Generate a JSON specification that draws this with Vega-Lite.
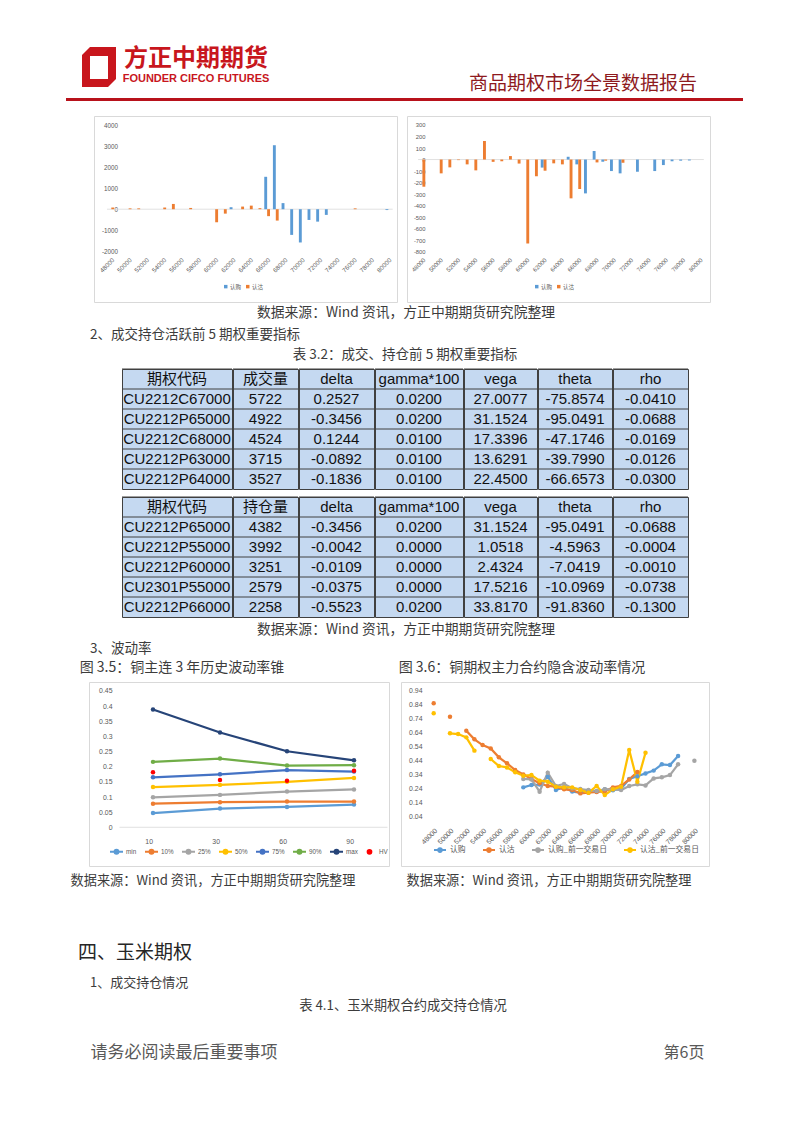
{
"$schema": "https://vega.github.io/schema/vega-lite/v6.json",
"padding": 0,
"background": "white",
"spacing": 0,
"config": {"view": {"stroke": null}, "font": "Noto Sans CJK SC"},
"resolve": {"scale": {"color": "independent", "x": "independent", "y": "independent"}, "legend": {"color": "independent"}, "axis": {"x": "independent", "y": "independent"}},
"datasets": {
 "b1": [
  {"k":"62000","s":"认购","v":95},{"k":"66000","s":"认购","v":1540},{"k":"67000","s":"认购","v":3040},{"k":"68000","s":"认购","v":290},
  {"k":"69000","s":"认购","v":-1220},{"k":"70000","s":"认购","v":-1580},{"k":"71000","s":"认购","v":-510},{"k":"72000","s":"认购","v":-590},
  {"k":"73000","s":"认购","v":-270},{"k":"80000","s":"认购","v":-40},
  {"k":"48000","s":"认沽","v":80},{"k":"50000","s":"认沽","v":40},{"k":"51000","s":"认沽","v":40},{"k":"54000","s":"认沽","v":80},
  {"k":"55000","s":"认沽","v":250},{"k":"57000","s":"认沽","v":60},{"k":"60000","s":"认沽","v":-620},{"k":"61000","s":"认沽","v":-210},
  {"k":"63000","s":"认沽","v":125},{"k":"64000","s":"认沽","v":170},{"k":"65000","s":"认沽","v":50},{"k":"66000","s":"认沽","v":-330},
  {"k":"67000","s":"认沽","v":-540},{"k":"76000","s":"认沽","v":40}
 ],
 "b2": [
  {"k":"62000","s":"认购","v":-70},{"k":"65000","s":"认购","v":24},{"k":"66000","s":"认购","v":-42},{"k":"67000","s":"认购","v":-294},
  {"k":"68000","s":"认购","v":74},{"k":"69000","s":"认购","v":-19},{"k":"70000","s":"认购","v":-100},{"k":"71000","s":"认购","v":-120},
  {"k":"73000","s":"认购","v":-106},{"k":"75000","s":"认购","v":-100},{"k":"76000","s":"认购","v":-48},{"k":"77000","s":"认购","v":-15},
  {"k":"78000","s":"认购","v":-10},{"k":"79000","s":"认购","v":-8},
  {"k":"48000","s":"认沽","v":-236},{"k":"50000","s":"认沽","v":-120},{"k":"51000","s":"认沽","v":-68},{"k":"52000","s":"认沽","v":-5},
  {"k":"53000","s":"认沽","v":-42},{"k":"54000","s":"认沽","v":-94},{"k":"55000","s":"认沽","v":161},{"k":"56000","s":"认沽","v":-20},
  {"k":"57000","s":"认沽","v":-15},{"k":"58000","s":"认沽","v":30},{"k":"59000","s":"认沽","v":-35},{"k":"60000","s":"认沽","v":-729},
  {"k":"61000","s":"认沽","v":-145},{"k":"62000","s":"认沽","v":-97},{"k":"63000","s":"认沽","v":-33},{"k":"64000","s":"认沽","v":-42},
  {"k":"65000","s":"认沽","v":-337},{"k":"66000","s":"认沽","v":-256},{"k":"68000","s":"认沽","v":-25},{"k":"69000","s":"认沽","v":-10},
  {"k":"71000","s":"认沽","v":-28}
 ],
 "t1": [
  {"code":"期权代码","n":"成交量","delta":"delta","gamma":"gamma*100","vega":"vega","theta":"theta","rho":"rho"},
  {"code":"CU2212C67000","n":"5722","delta":"0.2527","gamma":"0.0200","vega":"27.0077","theta":"-75.8574","rho":"-0.0410"},
  {"code":"CU2212P65000","n":"4922","delta":"-0.3456","gamma":"0.0200","vega":"31.1524","theta":"-95.0491","rho":"-0.0688"},
  {"code":"CU2212C68000","n":"4524","delta":"0.1244","gamma":"0.0100","vega":"17.3396","theta":"-47.1746","rho":"-0.0169"},
  {"code":"CU2212P63000","n":"3715","delta":"-0.0892","gamma":"0.0100","vega":"13.6291","theta":"-39.7990","rho":"-0.0126"},
  {"code":"CU2212P64000","n":"3527","delta":"-0.1836","gamma":"0.0100","vega":"22.4500","theta":"-66.6573","rho":"-0.0300"}
 ],
 "t2": [
  {"code":"期权代码","n":"持仓量","delta":"delta","gamma":"gamma*100","vega":"vega","theta":"theta","rho":"rho"},
  {"code":"CU2212P65000","n":"4382","delta":"-0.3456","gamma":"0.0200","vega":"31.1524","theta":"-95.0491","rho":"-0.0688"},
  {"code":"CU2212P55000","n":"3992","delta":"-0.0042","gamma":"0.0000","vega":"1.0518","theta":"-4.5963","rho":"-0.0004"},
  {"code":"CU2212P60000","n":"3251","delta":"-0.0109","gamma":"0.0000","vega":"2.4324","theta":"-7.0419","rho":"-0.0010"},
  {"code":"CU2301P55000","n":"2579","delta":"-0.0375","gamma":"0.0000","vega":"17.5216","theta":"-10.0969","rho":"-0.0738"},
  {"code":"CU2212P66000","n":"2258","delta":"-0.5523","gamma":"0.0200","vega":"33.8170","theta":"-91.8360","rho":"-0.1300"}
 ],
 "vc": [
  {"w":"10","s":"min","v":0.047},{"w":"30","s":"min","v":0.062},{"w":"60","s":"min","v":0.067},{"w":"90","s":"min","v":0.075},
  {"w":"10","s":"10%","v":0.078},{"w":"30","s":"10%","v":0.083},{"w":"60","s":"10%","v":0.085},{"w":"90","s":"10%","v":0.085},
  {"w":"10","s":"25%","v":0.099},{"w":"30","s":"25%","v":0.107},{"w":"60","s":"25%","v":0.118},{"w":"90","s":"25%","v":0.125},
  {"w":"10","s":"50%","v":0.133},{"w":"30","s":"50%","v":0.14},{"w":"60","s":"50%","v":0.15},{"w":"90","s":"50%","v":0.163},
  {"w":"10","s":"75%","v":0.165},{"w":"30","s":"75%","v":0.175},{"w":"60","s":"75%","v":0.189},{"w":"90","s":"75%","v":0.184},
  {"w":"10","s":"90%","v":0.216},{"w":"30","s":"90%","v":0.227},{"w":"60","s":"90%","v":0.204},{"w":"90","s":"90%","v":0.205},
  {"w":"10","s":"max","v":0.389},{"w":"30","s":"max","v":0.313},{"w":"60","s":"max","v":0.251},{"w":"90","s":"max","v":0.221},
  {"w":"10","s":"HV","v":0.182},{"w":"30","s":"HV","v":0.156},{"w":"60","s":"HV","v":0.154},{"w":"90","s":"HV","v":0.187}
 ],
 "iv": [
  {"s":"认购","k":59000,"v":0.25},{"s":"认购","k":60000,"v":0.267},{"s":"认购","k":61000,"v":0.27},{"s":"认购","k":62000,"v":0.326},
  {"s":"认购","k":63000,"v":0.231},{"s":"认购","k":64000,"v":0.25},{"s":"认购","k":65000,"v":0.22},{"s":"认购","k":66000,"v":0.212},
  {"s":"认购","k":67000,"v":0.224},{"s":"认购","k":68000,"v":0.219},{"s":"认购","k":69000,"v":0.236},{"s":"认购","k":70000,"v":0.23},
  {"s":"认购","k":71000,"v":0.24},{"s":"认购","k":72000,"v":0.31},{"s":"认购","k":73000,"v":0.33},{"s":"认购","k":74000,"v":0.35},
  {"s":"认购","k":75000,"v":0.37},{"s":"认购","k":76000,"v":0.415},{"s":"认购","k":77000,"v":0.41},{"s":"认购","k":78000,"v":0.475},
  {"s":"认沽","k":48000,"v":0.852},{"s":"认沽","k":49000,"v":null},{"s":"认沽","k":50000,"v":0.756},{"s":"认沽","k":51000,"v":null},
  {"s":"认沽","k":52000,"v":0.656},{"s":"认沽","k":53000,"v":0.594},{"s":"认沽","k":54000,"v":0.553},{"s":"认沽","k":55000,"v":0.529},
  {"s":"认沽","k":56000,"v":0.465},{"s":"认沽","k":57000,"v":0.422},{"s":"认沽","k":58000,"v":0.374},{"s":"认沽","k":59000,"v":0.343},
  {"s":"认沽","k":60000,"v":0.31},{"s":"认沽","k":61000,"v":0.279},{"s":"认沽","k":62000,"v":0.26},{"s":"认沽","k":63000,"v":0.255},
  {"s":"认沽","k":64000,"v":0.236},{"s":"认沽","k":65000,"v":0.231},{"s":"认沽","k":66000,"v":0.207},{"s":"认沽","k":67000,"v":0.212},
  {"s":"认沽","k":68000,"v":0.217},{"s":"认沽","k":69000,"v":0.221},{"s":"认沽","k":70000,"v":0.25},{"s":"认沽","k":71000,"v":0.26},
  {"s":"认沽","k":72000,"v":0.307},{"s":"认沽","k":73000,"v":0.36},
  {"s":"认购_前一交易日","k":59000,"v":0.31},{"s":"认购_前一交易日","k":60000,"v":0.307},{"s":"认购_前一交易日","k":61000,"v":0.219},
  {"s":"认购_前一交易日","k":62000,"v":0.355},{"s":"认购_前一交易日","k":63000,"v":0.26},{"s":"认购_前一交易日","k":64000,"v":0.274},
  {"s":"认购_前一交易日","k":65000,"v":0.243},{"s":"认购_前一交易日","k":66000,"v":0.238},{"s":"认购_前一交易日","k":67000,"v":0.231},
  {"s":"认购_前一交易日","k":68000,"v":0.224},{"s":"认购_前一交易日","k":69000,"v":0.236},{"s":"认购_前一交易日","k":70000,"v":0.236},
  {"s":"认购_前一交易日","k":71000,"v":0.231},{"s":"认购_前一交易日","k":72000,"v":0.26},{"s":"认购_前一交易日","k":73000,"v":0.272},
  {"s":"认购_前一交易日","k":74000,"v":0.264},{"s":"认购_前一交易日","k":75000,"v":0.314},{"s":"认购_前一交易日","k":76000,"v":0.322},
  {"s":"认购_前一交易日","k":77000,"v":0.338},{"s":"认购_前一交易日","k":78000,"v":0.415},{"s":"认购_前一交易日","k":79000,"v":null},
  {"s":"认购_前一交易日","k":80000,"v":0.44},
  {"s":"认沽_前一交易日","k":48000,"v":0.78},{"s":"认沽_前一交易日","k":49000,"v":null},{"s":"认沽_前一交易日","k":50000,"v":0.637},
  {"s":"认沽_前一交易日","k":51000,"v":0.632},{"s":"认沽_前一交易日","k":52000,"v":0.608},{"s":"认沽_前一交易日","k":53000,"v":0.513},
  {"s":"认沽_前一交易日","k":54000,"v":null},{"s":"认沽_前一交易日","k":55000,"v":0.453},{"s":"认沽_前一交易日","k":56000,"v":0.403},
  {"s":"认沽_前一交易日","k":57000,"v":0.393},{"s":"认沽_前一交易日","k":58000,"v":0.358},{"s":"认沽_前一交易日","k":59000,"v":0.334},
  {"s":"认沽_前一交易日","k":60000,"v":0.338},{"s":"认沽_前一交易日","k":61000,"v":0.298},{"s":"认沽_前一交易日","k":62000,"v":0.291},
  {"s":"认沽_前一交易日","k":63000,"v":0.255},{"s":"认沽_前一交易日","k":64000,"v":0.25},{"s":"认沽_前一交易日","k":65000,"v":0.25},
  {"s":"认沽_前一交易日","k":66000,"v":0.231},{"s":"认沽_前一交易日","k":67000,"v":0.212},{"s":"认沽_前一交易日","k":68000,"v":0.26},
  {"s":"认沽_前一交易日","k":69000,"v":0.195},{"s":"认沽_前一交易日","k":70000,"v":0.236},{"s":"认沽_前一交易日","k":71000,"v":0.255},
  {"s":"认沽_前一交易日","k":72000,"v":0.517},{"s":"认沽_前一交易日","k":73000,"v":0.29},{"s":"认沽_前一交易日","k":74000,"v":0.498}
 ]
},
"vconcat": [
 {"width": 10, "height": 46, "data": {"values": []}, "mark": "text"},
 {"spacing": 0, "hconcat": [
  {"width": 79, "height": 51, "data": {"values": []}, "mark": "text"},
  {"width": 40, "height": 51, "data": {"values": [{}]},
   "mark": {"type": "point", "shape": "M-0.85,-0.6L-0.45,-1L0.85,-1L0.85,0.6L0.45,1L-0.85,1ZM-0.45,-0.55L-0.45,0.6L0.45,0.6L0.45,-0.55Z", "filled": true, "color": "#c8161d", "size": 1600, "opacity": 1, "strokeWidth": 0},
   "encoding": {"y": {"datum": "e", "type": "nominal", "scale": {"type": "band", "domain": ["e"], "paddingInner": 0, "paddingOuter": 0.1375, "align": 0}, "axis": null}}},
  {"width": 2, "height": 51, "data": {"values": []}, "mark": "text"},
  {"width": 150, "height": 51,
   "data": {"values": [{"t": "方正中期期货", "r": "a"}, {"t": "FOUNDER CIFCO FUTURES", "r": "b"}]},
   "encoding": {"y": {"field": "r", "type": "nominal", "scale": {"type": "band", "domain": ["a", "b"], "paddingInner": 0, "paddingOuter": 0.275, "align": 0.1818}, "axis": null}, "text": {"field": "t"}},
   "layer": [
    {"transform": [{"filter": "datum.r === 'a'"}], "mark": {"type": "text", "fontSize": 24, "fontWeight": "bold", "color": "#c8161d", "font": "Noto Sans CJK SC"}},
    {"transform": [{"filter": "datum.r === 'b'"}], "mark": {"type": "text", "fontSize": 11, "fontWeight": "bold", "color": "#c8161d", "font": "Liberation Sans"}}
   ]},
  {"width": 187, "height": 51, "data": {"values": []}, "mark": "text"},
  {"width": 250, "height": 51, "data": {"values": [{"t": "商品期权市场全景数据报告"}]},
   "mark": {"type": "text", "fontSize": 19, "color": "#8e1a1e", "font": "Noto Sans CJK SC"},
   "encoding": {"y": {"datum": "l", "type": "nominal", "scale": {"type": "band", "domain": ["u", "l"], "paddingInner": 0, "paddingOuter": 0.275, "align": 0.636}, "axis": null}, "text": {"field": "t"}}}
 ]},
 {"spacing": 0, "hconcat": [
  {"width": 66, "height": 3, "data": {"values": []}, "mark": "text"},
  {"width": 677, "height": 3, "data": {"values": []}, "mark": "text", "view": {"fill": "#b8121b", "stroke": null}}
 ]},
 {"width": 10, "height": 14, "data": {"values": []}, "mark": "text"},
 {"spacing": 0,
  "resolve": {"scale": {"color": "independent", "x": "independent", "y": "independent", "xOffset": "independent"}, "legend": {"color": "independent"}, "axis": {"x": "independent", "y": "independent"}},
  "hconcat": [
  {"width": 92.5, "height": 186, "data": {"values": []}, "mark": "text"},
  {"width": 303, "height": 186, "view": {"stroke": "#d9d9d9", "fill": "white"},
   "layer": [
    {"data": {"values": [{}]}, "mark": {"type": "rule", "color": "#d9d9d9", "strokeWidth": 0.8},
     "encoding": {
      "y": {"datum": 0, "type": "quantitative", "scale": {"domain": [-4408, 4428], "nice": false, "zero": false},
       "axis": {"values": [-2000, -1000, 0, 1000, 2000, 3000, 4000], "labelExpr": "'' + datum.value", "labelOverlap": false, "domain": false, "ticks": false, "grid": false, "title": null, "offset": -23.5, "labelPadding": 0, "labelFontSize": 6.3, "labelColor": "#595959", "labelFont": "Liberation Sans"}},
      "x": {"datum": "48000", "type": "nominal", "bandPosition": 0,
       "axis": {"values": ["48000","50000","52000","54000","56000","58000","60000","62000","64000","66000","68000","70000","72000","74000","76000","78000","80000"], "labelAngle": -45, "domain": false, "ticks": false, "grid": false, "title": null, "offset": -47.5, "labelPadding": 2, "labelFontSize": 6.3, "labelColor": "#595959", "labelFont": "Liberation Sans", "labelOverlap": false}},
      "x2": {"datum": "80000", "bandPosition": 1}}},
    {"data": {"name": "b1"}, "mark": {"type": "bar"},
     "encoding": {
      "x": {"field": "k", "type": "nominal", "scale": {"domain": ["48000","49000","50000","51000","52000","53000","54000","55000","56000","57000","58000","59000","60000","61000","62000","63000","64000","65000","66000","67000","68000","69000","70000","71000","72000","73000","74000","75000","76000","77000","78000","79000","80000"], "paddingInner": 0, "paddingOuter": 2.4375, "align": 0.75},
       "axis": {"values": ["48000","50000","52000","54000","56000","58000","60000","62000","64000","66000","68000","70000","72000","74000","76000","78000","80000"], "labelAngle": -45, "domain": false, "ticks": false, "grid": false, "title": null, "offset": -47.5, "labelPadding": 2, "labelFontSize": 6.3, "labelColor": "#595959", "labelFont": "Liberation Sans", "labelOverlap": false}},
      "xOffset": {"field": "s", "type": "nominal", "scale": {"domain": ["认购", "认沽"], "paddingOuter": 0.5, "paddingInner": 0}},
      "y": {"field": "v", "type": "quantitative", "scale": {"domain": [-4408, 4428], "nice": false, "zero": false},
       "axis": {"values": [-2000, -1000, 0, 1000, 2000, 3000, 4000], "labelExpr": "'' + datum.value", "labelOverlap": false, "domain": false, "ticks": false, "grid": false, "title": null, "offset": -23.5, "labelPadding": 0, "labelFontSize": 6.3, "labelColor": "#595959", "labelFont": "Liberation Sans"}},
      "y2": {"datum": 0},
      "color": {"field": "s", "type": "nominal", "scale": {"domain": ["认购", "认沽"], "range": ["#5B9BD5", "#ED7D31"]},
       "legend": {"orient": "none", "legendX": 129, "legendY": 167.5, "direction": "horizontal", "columns": 2, "title": null, "symbolType": "square", "symbolSize": 12, "labelFontSize": 5.5, "labelOffset": 1.5, "columnPadding": 3, "labelColor": "#595959", "labelFont": "Noto Sans CJK SC"}}
     }}
   ]},
  {"width": 8, "height": 186, "data": {"values": []}, "mark": "text"},
  {"width": 303, "height": 186, "view": {"stroke": "#d9d9d9", "fill": "white"},
   "layer": [
    {"data": {"values": [{}]}, "mark": {"type": "rule", "color": "#d9d9d9", "strokeWidth": 0.8},
     "encoding": {
      "y": {"datum": 0, "type": "quantitative", "scale": {"domain": [-1237, 378], "nice": false, "zero": false},
       "axis": {"values": [-800, -700, -600, -500, -400, -300, -200, -100, 0, 100, 200, 300], "labelExpr": "'' + datum.value", "labelOverlap": false, "domain": false, "ticks": false, "grid": false, "title": null, "offset": -18, "labelPadding": 0, "labelFontSize": 5.8, "labelColor": "#595959", "labelFont": "Liberation Sans"}},
      "x": {"datum": "48000", "type": "nominal", "bandPosition": 0,
       "axis": {"values": ["48000","50000","52000","54000","56000","58000","60000","62000","64000","66000","68000","70000","72000","74000","76000","78000","80000"], "labelAngle": -45, "domain": false, "ticks": false, "grid": false, "title": null, "offset": -47.5, "labelPadding": 2, "labelFontSize": 6, "labelColor": "#595959", "labelFont": "Liberation Sans", "labelOverlap": false}},
      "x2": {"datum": "80000", "bandPosition": 1}}},
    {"data": {"name": "b2"}, "mark": {"type": "bar"},
     "encoding": {
      "x": {"field": "k", "type": "nominal", "scale": {"domain": ["48000","49000","50000","51000","52000","53000","54000","55000","56000","57000","58000","59000","60000","61000","62000","63000","64000","65000","66000","67000","68000","69000","70000","71000","72000","73000","74000","75000","76000","77000","78000","79000","80000"], "paddingInner": 0, "paddingOuter": 2.4375, "align": 0.641},
       "axis": {"values": ["48000","50000","52000","54000","56000","58000","60000","62000","64000","66000","68000","70000","72000","74000","76000","78000","80000"], "labelAngle": -45, "domain": false, "ticks": false, "grid": false, "title": null, "offset": -47.5, "labelPadding": 2, "labelFontSize": 6, "labelColor": "#595959", "labelFont": "Liberation Sans", "labelOverlap": false}},
      "xOffset": {"field": "s", "type": "nominal", "scale": {"domain": ["认购", "认沽"], "paddingOuter": 0.5, "paddingInner": 0}},
      "y": {"field": "v", "type": "quantitative", "scale": {"domain": [-1237, 378], "nice": false, "zero": false},
       "axis": {"values": [-800, -700, -600, -500, -400, -300, -200, -100, 0, 100, 200, 300], "labelExpr": "'' + datum.value", "labelOverlap": false, "domain": false, "ticks": false, "grid": false, "title": null, "offset": -18, "labelPadding": 0, "labelFontSize": 5.8, "labelColor": "#595959", "labelFont": "Liberation Sans"}},
      "y2": {"datum": 0},
      "color": {"field": "s", "type": "nominal", "scale": {"domain": ["认购", "认沽"], "range": ["#5B9BD5", "#ED7D31"]},
       "legend": {"orient": "none", "legendX": 127, "legendY": 167.5, "direction": "horizontal", "columns": 2, "title": null, "symbolType": "square", "symbolSize": 12, "labelFontSize": 5.5, "labelOffset": 1.5, "columnPadding": 3, "labelColor": "#595959", "labelFont": "Noto Sans CJK SC"}}
     }}
   ]}
 ]},
 {"spacing": 0, "hconcat": [
  {"width": 256, "height": 19.5, "data": {"values": []}, "mark": "text"},
  {"width": 300, "height": 19.5, "data": {"values": [{"t": "数据来源：Wind 资讯，方正中期期货研究院整理"}]}, "mark": {"type": "text", "fontSize": 13.8, "color": "#3c3c3c", "font": "Noto Sans CJK SC"}, "encoding": {"text": {"field": "t"}}}
 ]},
 {"spacing": 0, "hconcat": [
  {"width": 80, "height": 24, "data": {"values": []}, "mark": "text"},
  {"width": 20, "height": 24, "data": {"values": [{"t": "2、成交持仓活跃前 5 期权重要指标"}]}, "mark": {"type": "text", "align": "left", "fontSize": 13.5, "color": "#3c3c3c", "font": "Noto Sans CJK SC"}, "encoding": {"text": {"field": "t"}}}
 ]},
 {"spacing": 0, "hconcat": [
  {"width": 285, "height": 16, "data": {"values": []}, "mark": "text"},
  {"width": 240, "height": 16, "data": {"values": [{"t": "表 3.2：成交、持仓前 5 期权重要指标"}]}, "mark": {"type": "text", "fontSize": 13.5, "color": "#3c3c3c", "font": "Noto Sans CJK SC"}, "encoding": {"text": {"field": "t"}}}
 ]},
 {"width": 10, "height": 4.5, "data": {"values": []}, "mark": "text"},
 {"spacing": -2, "hconcat": [
  {"width": 121.5, "height": 120, "data": {"values": []}, "mark": "text"},
  {"width": 110, "height": 120, "data": {"name": "t1"}, "view": {"fill": "#c5d9f1", "stroke": "#404040"},
   "encoding": {"y": {"field": "code", "type": "nominal", "sort": null, "scale": {"type": "band", "paddingInner": 0, "paddingOuter": 0}, "axis": null}},
   "layer": [{"mark": {"type": "rule", "color": "#404040"}, "encoding": {"y": {"field": "code", "type": "nominal", "sort": null, "bandPosition": 0, "scale": {"type": "band", "paddingInner": 0, "paddingOuter": 0}, "axis": null}}},
    {"mark": {"type": "text", "fontSize": 15, "color": "#111111", "font": "Liberation Sans, Noto Sans CJK SC"}, "encoding": {"text": {"field": "code"}}}]},
  {"width": 65, "height": 120, "data": {"name": "t1"}, "view": {"fill": "#c5d9f1", "stroke": "#404040"},
   "encoding": {"y": {"field": "code", "type": "nominal", "sort": null, "scale": {"type": "band", "paddingInner": 0, "paddingOuter": 0}, "axis": null}},
   "layer": [{"mark": {"type": "rule", "color": "#404040"}, "encoding": {"y": {"field": "code", "type": "nominal", "sort": null, "bandPosition": 0, "scale": {"type": "band", "paddingInner": 0, "paddingOuter": 0}, "axis": null}}},
    {"mark": {"type": "text", "fontSize": 15, "color": "#111111", "font": "Liberation Sans, Noto Sans CJK SC"}, "encoding": {"text": {"field": "n"}}}]},
  {"width": 75, "height": 120, "data": {"name": "t1"}, "view": {"fill": "#c5d9f1", "stroke": "#404040"},
   "encoding": {"y": {"field": "code", "type": "nominal", "sort": null, "scale": {"type": "band", "paddingInner": 0, "paddingOuter": 0}, "axis": null}},
   "layer": [{"mark": {"type": "rule", "color": "#404040"}, "encoding": {"y": {"field": "code", "type": "nominal", "sort": null, "bandPosition": 0, "scale": {"type": "band", "paddingInner": 0, "paddingOuter": 0}, "axis": null}}},
    {"mark": {"type": "text", "fontSize": 15, "color": "#111111", "font": "Liberation Sans, Noto Sans CJK SC"}, "encoding": {"text": {"field": "delta"}}}]},
  {"width": 88, "height": 120, "data": {"name": "t1"}, "view": {"fill": "#c5d9f1", "stroke": "#404040"},
   "encoding": {"y": {"field": "code", "type": "nominal", "sort": null, "scale": {"type": "band", "paddingInner": 0, "paddingOuter": 0}, "axis": null}},
   "layer": [{"mark": {"type": "rule", "color": "#404040"}, "encoding": {"y": {"field": "code", "type": "nominal", "sort": null, "bandPosition": 0, "scale": {"type": "band", "paddingInner": 0, "paddingOuter": 0}, "axis": null}}},
    {"mark": {"type": "text", "fontSize": 15, "color": "#111111", "font": "Liberation Sans, Noto Sans CJK SC"}, "encoding": {"text": {"field": "gamma"}}}]},
  {"width": 73, "height": 120, "data": {"name": "t1"}, "view": {"fill": "#c5d9f1", "stroke": "#404040"},
   "encoding": {"y": {"field": "code", "type": "nominal", "sort": null, "scale": {"type": "band", "paddingInner": 0, "paddingOuter": 0}, "axis": null}},
   "layer": [{"mark": {"type": "rule", "color": "#404040"}, "encoding": {"y": {"field": "code", "type": "nominal", "sort": null, "bandPosition": 0, "scale": {"type": "band", "paddingInner": 0, "paddingOuter": 0}, "axis": null}}},
    {"mark": {"type": "text", "fontSize": 15, "color": "#111111", "font": "Liberation Sans, Noto Sans CJK SC"}, "encoding": {"text": {"field": "vega"}}}]},
  {"width": 74, "height": 120, "data": {"name": "t1"}, "view": {"fill": "#c5d9f1", "stroke": "#404040"},
   "encoding": {"y": {"field": "code", "type": "nominal", "sort": null, "scale": {"type": "band", "paddingInner": 0, "paddingOuter": 0}, "axis": null}},
   "layer": [{"mark": {"type": "rule", "color": "#404040"}, "encoding": {"y": {"field": "code", "type": "nominal", "sort": null, "bandPosition": 0, "scale": {"type": "band", "paddingInner": 0, "paddingOuter": 0}, "axis": null}}},
    {"mark": {"type": "text", "fontSize": 15, "color": "#111111", "font": "Liberation Sans, Noto Sans CJK SC"}, "encoding": {"text": {"field": "theta"}}}]},
  {"width": 75, "height": 120, "data": {"name": "t1"}, "view": {"fill": "#c5d9f1", "stroke": "#404040"},
   "encoding": {"y": {"field": "code", "type": "nominal", "sort": null, "scale": {"type": "band", "paddingInner": 0, "paddingOuter": 0}, "axis": null}},
   "layer": [{"mark": {"type": "rule", "color": "#404040"}, "encoding": {"y": {"field": "code", "type": "nominal", "sort": null, "bandPosition": 0, "scale": {"type": "band", "paddingInner": 0, "paddingOuter": 0}, "axis": null}}},
    {"mark": {"type": "text", "fontSize": 15, "color": "#111111", "font": "Liberation Sans, Noto Sans CJK SC"}, "encoding": {"text": {"field": "rho"}}}]}
 ]},
 {"width": 10, "height": 6, "data": {"values": []}, "mark": "text"},
 {"spacing": -2, "hconcat": [
  {"width": 121.5, "height": 120, "data": {"values": []}, "mark": "text"},
  {"width": 110, "height": 120, "data": {"name": "t2"}, "view": {"fill": "#c5d9f1", "stroke": "#404040"},
   "encoding": {"y": {"field": "code", "type": "nominal", "sort": null, "scale": {"type": "band", "paddingInner": 0, "paddingOuter": 0}, "axis": null}},
   "layer": [{"mark": {"type": "rule", "color": "#404040"}, "encoding": {"y": {"field": "code", "type": "nominal", "sort": null, "bandPosition": 0, "scale": {"type": "band", "paddingInner": 0, "paddingOuter": 0}, "axis": null}}},
    {"mark": {"type": "text", "fontSize": 15, "color": "#111111", "font": "Liberation Sans, Noto Sans CJK SC"}, "encoding": {"text": {"field": "code"}}}]},
  {"width": 65, "height": 120, "data": {"name": "t2"}, "view": {"fill": "#c5d9f1", "stroke": "#404040"},
   "encoding": {"y": {"field": "code", "type": "nominal", "sort": null, "scale": {"type": "band", "paddingInner": 0, "paddingOuter": 0}, "axis": null}},
   "layer": [{"mark": {"type": "rule", "color": "#404040"}, "encoding": {"y": {"field": "code", "type": "nominal", "sort": null, "bandPosition": 0, "scale": {"type": "band", "paddingInner": 0, "paddingOuter": 0}, "axis": null}}},
    {"mark": {"type": "text", "fontSize": 15, "color": "#111111", "font": "Liberation Sans, Noto Sans CJK SC"}, "encoding": {"text": {"field": "n"}}}]},
  {"width": 75, "height": 120, "data": {"name": "t2"}, "view": {"fill": "#c5d9f1", "stroke": "#404040"},
   "encoding": {"y": {"field": "code", "type": "nominal", "sort": null, "scale": {"type": "band", "paddingInner": 0, "paddingOuter": 0}, "axis": null}},
   "layer": [{"mark": {"type": "rule", "color": "#404040"}, "encoding": {"y": {"field": "code", "type": "nominal", "sort": null, "bandPosition": 0, "scale": {"type": "band", "paddingInner": 0, "paddingOuter": 0}, "axis": null}}},
    {"mark": {"type": "text", "fontSize": 15, "color": "#111111", "font": "Liberation Sans, Noto Sans CJK SC"}, "encoding": {"text": {"field": "delta"}}}]},
  {"width": 88, "height": 120, "data": {"name": "t2"}, "view": {"fill": "#c5d9f1", "stroke": "#404040"},
   "encoding": {"y": {"field": "code", "type": "nominal", "sort": null, "scale": {"type": "band", "paddingInner": 0, "paddingOuter": 0}, "axis": null}},
   "layer": [{"mark": {"type": "rule", "color": "#404040"}, "encoding": {"y": {"field": "code", "type": "nominal", "sort": null, "bandPosition": 0, "scale": {"type": "band", "paddingInner": 0, "paddingOuter": 0}, "axis": null}}},
    {"mark": {"type": "text", "fontSize": 15, "color": "#111111", "font": "Liberation Sans, Noto Sans CJK SC"}, "encoding": {"text": {"field": "gamma"}}}]},
  {"width": 73, "height": 120, "data": {"name": "t2"}, "view": {"fill": "#c5d9f1", "stroke": "#404040"},
   "encoding": {"y": {"field": "code", "type": "nominal", "sort": null, "scale": {"type": "band", "paddingInner": 0, "paddingOuter": 0}, "axis": null}},
   "layer": [{"mark": {"type": "rule", "color": "#404040"}, "encoding": {"y": {"field": "code", "type": "nominal", "sort": null, "bandPosition": 0, "scale": {"type": "band", "paddingInner": 0, "paddingOuter": 0}, "axis": null}}},
    {"mark": {"type": "text", "fontSize": 15, "color": "#111111", "font": "Liberation Sans, Noto Sans CJK SC"}, "encoding": {"text": {"field": "vega"}}}]},
  {"width": 74, "height": 120, "data": {"name": "t2"}, "view": {"fill": "#c5d9f1", "stroke": "#404040"},
   "encoding": {"y": {"field": "code", "type": "nominal", "sort": null, "scale": {"type": "band", "paddingInner": 0, "paddingOuter": 0}, "axis": null}},
   "layer": [{"mark": {"type": "rule", "color": "#404040"}, "encoding": {"y": {"field": "code", "type": "nominal", "sort": null, "bandPosition": 0, "scale": {"type": "band", "paddingInner": 0, "paddingOuter": 0}, "axis": null}}},
    {"mark": {"type": "text", "fontSize": 15, "color": "#111111", "font": "Liberation Sans, Noto Sans CJK SC"}, "encoding": {"text": {"field": "theta"}}}]},
  {"width": 75, "height": 120, "data": {"name": "t2"}, "view": {"fill": "#c5d9f1", "stroke": "#404040"},
   "encoding": {"y": {"field": "code", "type": "nominal", "sort": null, "scale": {"type": "band", "paddingInner": 0, "paddingOuter": 0}, "axis": null}},
   "layer": [{"mark": {"type": "rule", "color": "#404040"}, "encoding": {"y": {"field": "code", "type": "nominal", "sort": null, "bandPosition": 0, "scale": {"type": "band", "paddingInner": 0, "paddingOuter": 0}, "axis": null}}},
    {"mark": {"type": "text", "fontSize": 15, "color": "#111111", "font": "Liberation Sans, Noto Sans CJK SC"}, "encoding": {"text": {"field": "rho"}}}]}
 ]},
 {"spacing": 0, "hconcat": [
  {"width": 256, "height": 23.5, "data": {"values": []}, "mark": "text"},
  {"width": 300, "height": 23.5, "data": {"values": [{"t": "数据来源：Wind 资讯，方正中期期货研究院整理"}]}, "mark": {"type": "text", "fontSize": 13.8, "color": "#3c3c3c", "font": "Noto Sans CJK SC"}, "encoding": {"text": {"field": "t"}}}
 ]},
 {"spacing": 0, "hconcat": [
  {"width": 80, "height": 14, "data": {"values": []}, "mark": "text"},
  {"width": 20, "height": 14, "data": {"values": [{"t": "3、波动率"}]}, "mark": {"type": "text", "align": "left", "fontSize": 13.5, "color": "#3c3c3c", "font": "Noto Sans CJK SC"}, "encoding": {"text": {"field": "t"}}}
 ]},
 {"spacing": 0, "hconcat": [
  {"width": 72, "height": 24.5, "data": {"values": []}, "mark": "text"},
  {"width": 220, "height": 24.5, "data": {"values": [{"t": "图 3.5：铜主连 3 年历史波动率锥"}]}, "mark": {"type": "text", "fontSize": 14, "color": "#3c3c3c", "font": "Noto Sans CJK SC"}, "encoding": {"text": {"field": "t"}}},
  {"width": 100, "height": 24.5, "data": {"values": []}, "mark": "text"},
  {"width": 260, "height": 24.5, "data": {"values": [{"t": "图 3.6：铜期权主力合约隐含波动率情况"}]}, "mark": {"type": "text", "fontSize": 14, "color": "#3c3c3c", "font": "Noto Sans CJK SC"}, "encoding": {"text": {"field": "t"}}}
 ]},
 {"spacing": 0,
  "resolve": {"scale": {"color": "independent", "x": "independent", "y": "independent"}, "legend": {"color": "independent"}, "axis": {"x": "independent", "y": "independent"}},
  "hconcat": [
  {"width": 87.5, "height": 184, "data": {"values": []}, "mark": "text"},
  {"width": 300, "height": 184, "view": {"stroke": "#d9d9d9", "fill": "white"}, "data": {"name": "vc"},
   "layer": [
    {"data": {"values": [{}]}, "mark": {"type": "rule", "color": "#d9d9d9", "strokeWidth": 0.8},
     "encoding": {
      "y": {"datum": 0, "type": "quantitative", "scale": {"domain": [-0.1278, 0.4797], "nice": false, "zero": false},
       "axis": {"values": [0, 0.05, 0.1, 0.15, 0.2, 0.25, 0.3, 0.35, 0.4, 0.45], "labelExpr": "'' + datum.value", "labelOverlap": false, "domain": false, "ticks": false, "grid": false, "title": null, "offset": -23, "labelPadding": 0, "labelFontSize": 6.9, "labelColor": "#595959", "labelFont": "Liberation Sans"}},
      "x": {"datum": "10", "type": "nominal", "bandPosition": 0},
      "x2": {"datum": "90", "bandPosition": 1}}},
    {"mark": {"type": "line", "strokeWidth": 2.25, "point": {"filled": true, "size": 20}},
     "encoding": {
      "x": {"field": "w", "type": "nominal", "scale": {"type": "band", "domain": ["10", "30", "60", "90"], "paddingInner": 0, "paddingOuter": 0.2388, "align": 0.953},
       "axis": {"domain": false, "ticks": false, "grid": false, "title": null, "labelAngle": 0, "offset": -38.7, "labelPadding": 13.7, "labelFontSize": 6.9, "labelColor": "#595959", "labelFont": "Liberation Sans"}},
      "y": {"field": "v", "type": "quantitative", "scale": {"domain": [-0.1278, 0.4797], "nice": false, "zero": false},
       "axis": {"values": [0, 0.05, 0.1, 0.15, 0.2, 0.25, 0.3, 0.35, 0.4, 0.45], "labelExpr": "'' + datum.value", "labelOverlap": false, "domain": false, "ticks": false, "grid": false, "title": null, "offset": -23, "labelPadding": 0, "labelFontSize": 6.9, "labelColor": "#595959", "labelFont": "Liberation Sans"}},
      "strokeOpacity": {"condition": {"test": "datum.s === 'HV'", "value": 0}, "value": 1},
      "color": {"field": "s", "type": "nominal", "scale": {"domain": ["min", "10%", "25%", "50%", "75%", "90%", "max", "HV"], "range": ["#5B9BD5", "#ED7D31", "#A5A5A5", "#FFC000", "#4472C4", "#70AD47", "#264478", "#FF0000"]},
       "legend": {"orient": "none", "legendX": 20, "legendY": 162, "direction": "horizontal", "columns": 8, "title": null, "symbolType": "M-1,0L1,0M-0.3,0A0.3,0.3,0,1,0,0.3,0A0.3,0.3,0,1,0,-0.3,0", "symbolSize": 169, "symbolStrokeWidth": 2, "labelFontSize": 6.3, "labelOffset": 2, "columnPadding": 4, "labelColor": "#595959", "labelFont": "Liberation Sans",
        "encode": {"symbols": {"update": {
          "shape": {"signal": "datum.value === 'HV' ? 'circle' : 'M-1,0L1,0M-0.3,0A0.3,0.3,0,1,0,0.3,0A0.3,0.3,0,1,0,-0.3,0'"},
          "size": {"signal": "datum.value === 'HV' ? 14 : 169"},
          "fill": {"scale": "color", "field": "value"},
          "stroke": {"scale": "color", "field": "value"},
          "strokeOpacity": {"value": 1}}}}}}
     }}
   ]},
  {"width": 10, "height": 184, "data": {"values": []}, "mark": "text"},
  {"width": 308, "height": 184, "view": {"stroke": "#d9d9d9", "fill": "white"}, "data": {"name": "iv"},
   "mark": {"type": "line", "strokeWidth": 2.25, "invalid": "break-paths-filter-domains", "point": {"filled": true, "size": 20}},
   "encoding": {
    "x": {"field": "k", "type": "quantitative", "scale": {"domain": [43986, 81792], "nice": false, "zero": false},
     "axis": {"values": [48000, 50000, 52000, 54000, 56000, 58000, 60000, 62000, 64000, 66000, 68000, 70000, 72000, 74000, 76000, 78000, 80000], "format": "d", "labelAngle": -45, "labelFlush": false, "labelOverlap": false, "domain": false, "ticks": false, "grid": false, "title": null, "offset": -40.8, "labelPadding": 2, "labelFontSize": 6.9, "labelColor": "#595959", "labelFont": "Liberation Sans"}},
    "y": {"field": "v", "type": "quantitative", "scale": {"domain": [-0.3129, 1.0044], "nice": false, "zero": false},
     "axis": {"values": [0.04, 0.14, 0.24, 0.34, 0.44, 0.54, 0.64, 0.74, 0.84, 0.94], "labelExpr": "'' + datum.value", "labelOverlap": false, "domain": false, "ticks": false, "grid": false, "title": null, "offset": -21, "labelPadding": 0, "labelFontSize": 6.9, "labelColor": "#595959", "labelFont": "Liberation Sans"}},
    "color": {"field": "s", "type": "nominal", "scale": {"domain": ["认购", "认沽", "认购_前一交易日", "认沽_前一交易日"], "range": ["#5B9BD5", "#ED7D31", "#A5A5A5", "#FFC000"]},
     "legend": {"orient": "none", "legendX": 32, "legendY": 161, "direction": "horizontal", "columns": 4, "title": null, "symbolType": "M-1,0L1,0M-0.3,0A0.3,0.3,0,1,0,0.3,0A0.3,0.3,0,1,0,-0.3,0", "symbolSize": 144, "symbolStrokeWidth": 2, "labelFontSize": 7.8, "labelOffset": 3, "columnPadding": 13, "labelColor": "#595959", "labelFont": "Noto Sans CJK SC",
      "encode": {"symbols": {"update": {"fill": {"scale": "color", "field": "value"}, "stroke": {"scale": "color", "field": "value"}}}}}}
   }}
 ]},
 {"spacing": 0, "hconcat": [
  {"width": 70, "height": 27.5, "data": {"values": []}, "mark": "text"},
  {"width": 276, "height": 27.5, "data": {"values": [{"t": "数据来源：Wind 资讯，方正中期期货研究院整理"}]}, "mark": {"type": "text", "fontSize": 13.2, "color": "#3c3c3c", "font": "Noto Sans CJK SC"}, "encoding": {"text": {"field": "t"}}},
  {"width": 50, "height": 27.5, "data": {"values": []}, "mark": "text"},
  {"width": 276, "height": 27.5, "data": {"values": [{"t": "数据来源：Wind 资讯，方正中期期货研究院整理"}]}, "mark": {"type": "text", "fontSize": 13.2, "color": "#3c3c3c", "font": "Noto Sans CJK SC"}, "encoding": {"text": {"field": "t"}}}
 ]},
 {"width": 10, "height": 44, "data": {"values": []}, "mark": "text"},
 {"spacing": 0, "hconcat": [
  {"width": 68, "height": 28, "data": {"values": []}, "mark": "text"},
  {"width": 20, "height": 28, "data": {"values": [{"t": "四、玉米期权"}]}, "mark": {"type": "text", "align": "left", "fontSize": 19, "color": "#262626", "font": "Noto Sans CJK SC"}, "encoding": {"text": {"field": "t"}}}
 ]},
 {"spacing": 0, "hconcat": [
  {"width": 80, "height": 32, "data": {"values": []}, "mark": "text"},
  {"width": 20, "height": 32, "data": {"values": [{"t": "1、成交持仓情况"}]}, "mark": {"type": "text", "align": "left", "fontSize": 13, "color": "#3c3c3c", "font": "Noto Sans CJK SC"}, "encoding": {"text": {"field": "t"}}}
 ]},
 {"spacing": 0, "hconcat": [
  {"width": 283, "height": 14, "data": {"values": []}, "mark": "text"},
  {"width": 240, "height": 14, "data": {"values": [{"t": "表 4.1、玉米期权合约成交持仓情况"}]}, "mark": {"type": "text", "fontSize": 13.3, "color": "#3c3c3c", "font": "Noto Sans CJK SC"}, "encoding": {"text": {"field": "t"}}}
 ]},
 {"width": 10, "height": 28, "data": {"values": []}, "mark": "text"},
 {"spacing": 0, "hconcat": [
  {"width": 80, "height": 24, "data": {"values": []}, "mark": "text"},
  {"width": 208, "height": 24, "data": {"values": [{"t": "请务必阅读最后重要事项"}]}, "mark": {"type": "text", "fontSize": 17, "color": "#595959", "font": "Noto Sans CJK SC"}, "encoding": {"text": {"field": "t"}}},
  {"width": 358, "height": 24, "data": {"values": []}, "mark": "text"},
  {"width": 76, "height": 24, "data": {"values": [{"t": "第6页"}]}, "mark": {"type": "text", "fontSize": 16, "color": "#595959", "font": "Noto Sans CJK SC"}, "encoding": {"text": {"field": "t"}}}
 ]},
 {"width": 10, "height": 72, "data": {"values": []}, "mark": "text"}
]
}
